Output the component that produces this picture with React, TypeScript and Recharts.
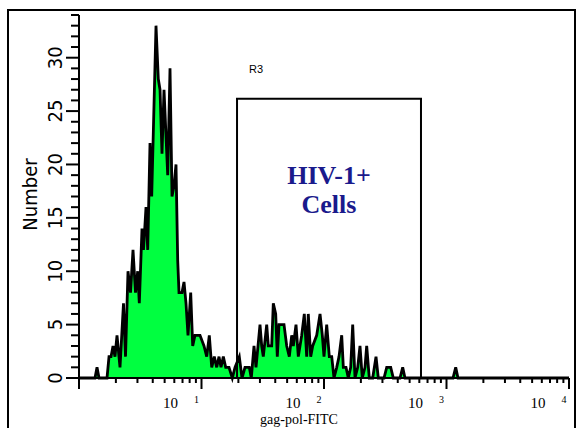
import React from 'react';
import { ComposedChart, Area, XAxis, YAxis, ReferenceArea } from 'recharts';

// Fluorescence intensity (gag-pol-FITC, log scale) of each histogram point
const fluorescence = [
  1, 1.351, 1.403, 1.457, 1.693, 1.758, 1.825, 1.895, 1.967, 2.043,
  2.161, 2.308, 2.397, 2.512, 2.633, 2.76, 2.893, 3.015, 3.107, 3.268,
  3.361, 3.524, 3.638, 3.799, 3.922, 4.252, 4.44, 4.585, 4.76, 4.943,
  5.299, 5.533, 5.745, 5.965, 6.193, 6.394, 6.552, 6.931, 7.197, 7.473,
  7.759, 8.163, 8.476, 8.85, 9.723, 10.48, 11.03, 11.58, 12.12, 12.72,
  13.31, 13.9, 14.43, 15.07, 15.76, 16.77, 17.84, 18.77, 20.35, 21.41,
  22.65, 24.56, 25.5, 26.83, 27.86, 30.03, 31.0, 31.95, 34.06, 35.11,
  37.42, 38.56, 40.34, 41.57, 42.93, 45.15, 47.15, 49.62, 52.1, 54.5,
  56.17, 59.09, 61.7, 65.77, 69.06, 72.24, 74.44, 77.88, 80.87, 87.2,
  92.8, 96.9, 100, 105.2, 110.5, 115.6, 120.7, 127.0, 132.6, 139.5,
  143.8, 151.2, 157.9, 165.2, 171.5, 179.1, 188.4, 196.7, 205.4, 216.1,
  223.1, 234.3, 249.7, 265.8, 277.5, 309.0, 325.0, 350.4, 367.9, 417.3,
  438.9, 458.3, 1130, 1189, 1241, 10000,
];

// Event counts ("Number") at each point
const counts = [
  0, 0, 1, 0, 0, 2, 2, 3, 2, 4,
  1, 7, 2, 10, 8, 12, 8, 10, 7, 14,
  12, 16, 12, 22, 17, 33, 28, 27, 21, 27,
  19, 29, 17, 18, 20, 11, 8, 8, 9, 7,
  4, 8, 3, 4, 4, 3, 2, 4, 1, 2,
  1, 2, 1, 2, 1, 1, 0, 1, 2, 0,
  1, 1, 0, 3, 1, 5, 3, 2, 5, 3,
  3, 7, 6, 2, 5, 5, 5, 3, 2, 4,
  3, 5, 2, 4, 6, 2, 6, 2, 3, 4,
  6, 4, 2, 5, 2, 2, 0, 1, 2, 4,
  1, 1, 0, 1, 5, 0, 1, 3, 0, 1,
  3, 0, 0, 2, 0, 0, 1, 1, 0, 0,
  1, 0, 0, 1, 0, 0,
];

const xTicks = [
  1, 2, 3, 4, 5, 6, 7, 8, 9,
  10, 20, 30, 40, 50, 60, 70, 80, 90,
  100, 200, 300, 400, 500, 600, 700, 800, 900,
  1000, 2000, 3000, 4000, 5000, 6000, 7000, 8000, 9000,
  10000,
];
const yTicks = [
  0, 1, 2, 3, 4, 5, 6, 7, 8, 9, 10, 11, 12, 13, 14, 15, 16, 17,
  18, 19, 20, 21, 22, 23, 24, 25, 26, 27, 28, 29, 30, 31, 32, 33, 34,
];

// Gate R3
const gateName = 'R3';
const gateLow = 19.5;
const gateHigh = 619;
const gateTop = 26.15;
const gateTextLines = ['HIV-1+', 'Cells'];

const data = fluorescence.map((x, i) => ({ x, y: counts[i] }));

const NARROW = "'Liberation Sans Narrow', 'DejaVu Sans Condensed', 'Liberation Sans', sans-serif";
const SERIF = "'Liberation Serif', 'DejaVu Serif', serif";

const XTick = (props: any) => {
  const { x, y, payload } = props;
  const v = payload.value as number;
  const e = Math.log10(v);
  const major = Math.abs(e - Math.round(e)) < 1e-6;
  return (
    <g>
      <line x1={x} x2={x} y1={y} y2={y + (major ? 11 : 5)} stroke="#000" strokeWidth={2} />
      {major && e >= 1 && (
        <>
          <text x={x - 31} y={y + 30} textAnchor="middle" fontSize={15} fontFamily={SERIF} fill="#000">10</text>
          <text x={x - 5} y={y + 25} textAnchor="middle" fontSize={10} fontFamily={SERIF} fill="#000">{Math.round(e)}</text>
        </>
      )}
    </g>
  );
};

const YTick = (props: any) => {
  const { x, y, payload } = props;
  const v = payload.value as number;
  const major = v % 5 === 0;
  const tx = x - 17;
  return (
    <g>
      <line x1={x - (major ? 13 : 8)} x2={x} y1={y} y2={y} stroke="#000" strokeWidth={2} />
      {major && (
        <text x={tx} y={y} transform={`rotate(-90, ${tx}, ${y})`} textAnchor="middle" fontSize={20} fontFamily={NARROW} fill="#000">
          {v}
        </text>
      )}
    </g>
  );
};

const gateLabel = (props: any) => {
  const vb = props.viewBox || { x: 0, y: 0, width: 0, height: 0 };
  const cx = vb.x + vb.width / 2;
  return (
    <g>
      <text x={vb.x + 19} y={vb.y - 26} textAnchor="middle" fontSize={11} fontFamily="'Liberation Sans', Arial, sans-serif" fill="#000">
        {gateName}
      </text>
      <text x={cx} y={vb.y + 85} textAnchor="middle" fontSize={26} fontWeight="bold" fontFamily={SERIF} fill="#1a1a8c">
        {gateTextLines[0]}
      </text>
      <text x={cx} y={vb.y + 114} textAnchor="middle" fontSize={26} fontWeight="bold" fontFamily={SERIF} fill="#1a1a8c">
        {gateTextLines[1]}
      </text>
    </g>
  );
};

const yLabel = (props: any) => {
  const vb = props.viewBox || { x: 0, y: 0, width: 0, height: 0 };
  const tx = vb.x + 37;
  const ty = vb.y + vb.height / 2 - 2;
  return (
    <text x={tx} y={ty} transform={`rotate(-90, ${tx}, ${ty})`} textAnchor="middle" fontSize={20} fontFamily={NARROW} fill="#000">
      Number
    </text>
  );
};

const xLabel = (props: any) => {
  const vb = props.viewBox || { x: 0, y: 0, width: 0, height: 0 };
  return (
    <text x={vb.x + vb.width / 2 - 25} y={vb.y + 46} textAnchor="middle" fontSize={14} fontFamily={SERIF} fill="#000">
      gag-pol-FITC
    </text>
  );
};

export default function App() {
  return (
    <div style={{ position: 'absolute', left: 0, top: 0, width: 576, height: 428, overflow: 'hidden', background: '#fff' }}>
      <div
        style={{
          position: 'absolute', left: 7, top: 9, width: 569, height: 440,
          border: '2px solid #000', boxSizing: 'border-box',
        }}
      />
      <div style={{ position: 'absolute', left: 0, top: 0 }}>
        <ComposedChart width={576} height={428} data={data} margin={{ top: 15, right: 7, bottom: 0, left: 0 }}>
          <XAxis
            dataKey="x"
            type="number"
            scale="log"
            domain={[1, 10000]}
            ticks={xTicks}
            interval={0}
            tickSize={0}
            tickMargin={0}
            tickLine={false}
            axisLine={{ stroke: '#000', strokeWidth: 2 }}
            height={50}
            tick={<XTick />}
            label={xLabel}
          />
          <YAxis
            type="number"
            domain={[0, 34]}
            ticks={yTicks}
            interval={0}
            tickSize={0}
            tickMargin={0}
            tickLine={false}
            axisLine={{ stroke: '#000', strokeWidth: 2 }}
            width={79}
            tick={<YTick />}
            label={yLabel}
          />
          <Area
            type="linear"
            dataKey="y"
            stroke="#000"
            strokeWidth={2.8}
            strokeLinejoin="miter"
            fill="#00ff40"
            fillOpacity={1}
            dot={false}
            activeDot={false}
            isAnimationActive={false}
          />
          <ReferenceArea
            x1={gateLow}
            x2={gateHigh}
            y1={0}
            y2={gateTop}
            fill="none"
            stroke="#000"
            strokeWidth={2}
            ifOverflow="visible"
            label={gateLabel}
          />
        </ComposedChart>
      </div>
    </div>
  );
}
